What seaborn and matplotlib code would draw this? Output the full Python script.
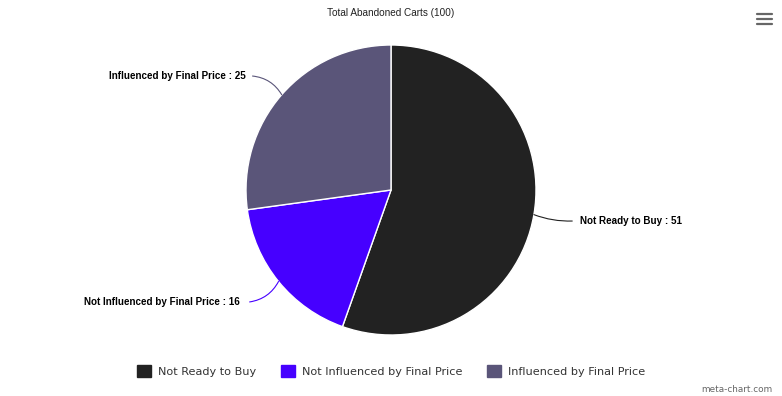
#!/usr/bin/env python3

import numpy as np
import seaborn as sns
import matplotlib.pyplot as plt
from matplotlib.patches import Patch

sns.set_theme(style="white")
plt.rcParams['font.family'] = ['Liberation Sans', 'DejaVu Sans']

titulo = "Total Abandoned Carts (100)"
categorias = ["Not Ready to Buy", "Not Influenced by Final Price", "Influenced by Final Price"]
valores = [51, 16, 25]
cores = ["#222222", "#4600ff", "#5a5579"]

fig = plt.figure(figsize=(7.82, 3.96), dpi=100)
fig.patch.set_facecolor("white")

# eixo da pizza: centro (391,190) px, raio 145 px
ax = fig.add_axes([(391 - 145) / 782, (396 - 190 - 145) / 396, 290 / 782, 290 / 396])
fatias, _ = ax.pie(valores, colors=cores, startangle=90, counterclock=False,
                   wedgeprops=dict(edgecolor="white", linewidth=1))
ax.set_xlim(-1, 1)
ax.set_ylim(-1, 1)
ax.set_aspect("equal")
ax.axis("off")

# rótulos: (x do texto, y, alinhamento, x fim do conector, curvatura) em unidades do raio
textos_pos = [(1.30, -0.214, "left", 1.25, -0.1),
              (-1.04, -0.772, "right", -0.975, 0.25),
              (-1.005, 0.786, "right", -0.955, -0.25)]
total = sum(valores)
acum = 0
for i, (cat, val) in enumerate(zip(categorias, valores)):
    meio = (acum + val / 2) / total * 2 * np.pi
    acum += val
    px, py = np.sin(meio), np.cos(meio)
    tx, ty, ha, cx, rad = textos_pos[i]
    ax.text(tx, ty, f"{cat} : {val}", ha=ha, va="center", fontsize=7.1,
            fontweight="bold", color="black", clip_on=False)
    ax.annotate("", xy=(px, py), xytext=(cx, ty), annotation_clip=False,
                arrowprops=dict(arrowstyle="-", color=cores[i], lw=0.8, shrinkA=0, shrinkB=0,
                                connectionstyle=f"arc3,rad={rad}"))

fig.text(391 / 782, 1 - 13 / 396, titulo, ha="center", va="center", fontsize=7.2, color="#222222")

handles = [Patch(facecolor=c, edgecolor=c) for c in cores]
leg = fig.legend(handles, categorias, loc="center", bbox_to_anchor=(391 / 782, 1 - 371 / 396), ncol=3,
                 frameon=False, handlelength=1.25, handleheight=1.25, handletextpad=0.62,
                 columnspacing=2.2, prop={'family': 'DejaVu Sans', 'size': 8.1})
for t in leg.get_texts():
    t.set_color("#333333")

fig.text(773 / 782, 1 - 389 / 396, "meta-chart.com", ha="right", va="center", fontsize=6.4,
         color="#666666", family="DejaVu Sans")

# ícone de menu
for y in [14, 19, 24]:
    fig.add_artist(plt.Line2D([757 / 782, 772 / 782], [1 - y / 396, 1 - y / 396], color="#666666", lw=1.6))

fig.savefig("out.png", dpi=100)
